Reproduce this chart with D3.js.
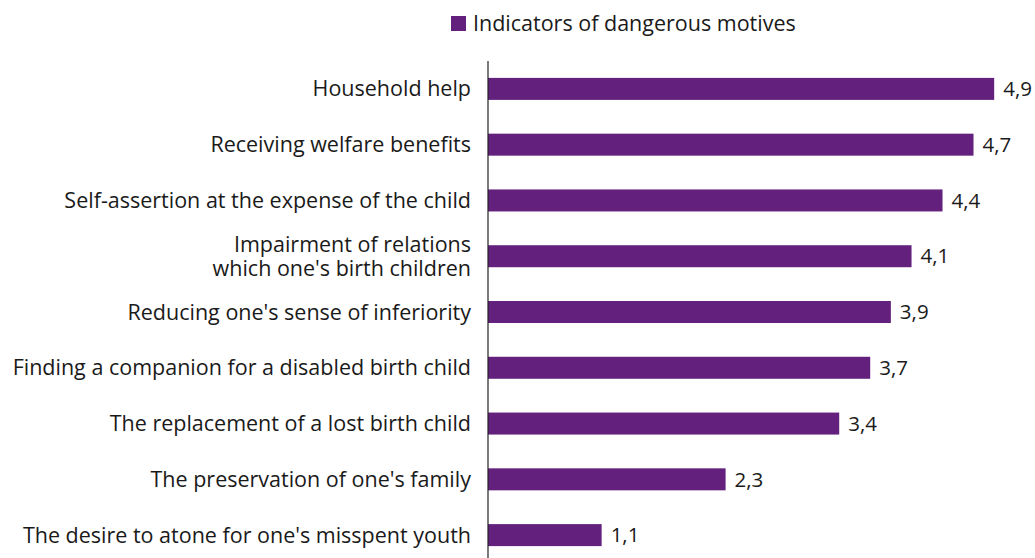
<!DOCTYPE html>
<html>
<head>
<meta charset="utf-8">
<script src="https://cdn.jsdelivr.net/npm/d3@7"></script>
<style>
  html, body { margin: 0; padding: 0; background: #fff; }
  text { font-family: "Open Sans", "Noto Sans", sans-serif; fill: #1a1a1a; }
</style>
</head>
<body>
<svg id="chart" width="1035" height="558"></svg>
<script>
// Motives, top to bottom, with their indicator scores
const categories = [
  ["Household help"],
  ["Receiving welfare benefits"],
  ["Self-assertion at the expense of the child"],
  ["Impairment of relations", "which one's birth children"],
  ["Reducing one's sense of inferiority"],
  ["Finding a companion for a disabled birth child"],
  ["The replacement of a lost birth child"],
  ["The preservation of one's family"],
  ["The desire to atone for one's misspent youth"]
];
const values = [4.9, 4.7, 4.4, 4.1, 3.9, 3.7, 3.4, 2.3, 1.1];
const seriesName = "Indicators of dangerous motives";

const barColor = "#63207d";
const fontSize = 21.5;
const svg = d3.select("#chart");

const x0 = 488;
const x = d3.scaleLinear().domain([0, 5]).range([x0, x0 + 516.5]);
const y = d3.scaleBand()
  .domain(d3.range(values.length))
  .range([61, 563])
  .paddingInner(0.6)
  .paddingOuter(0.3);

// Bars
svg.append("g").selectAll("rect")
  .data(values)
  .join("rect")
  .attr("x", x(0))
  .attr("y", (d, i) => y(i) + y.bandwidth() / 2 - 11)
  .attr("width", d => x(d) - x(0))
  .attr("height", 22)
  .attr("fill", barColor);

// Value labels
svg.append("g").selectAll("text")
  .data(values)
  .join("text")
  .attr("x", d => x(d) + 9)
  .attr("y", (d, i) => y(i) + y.bandwidth() / 2)
  .attr("dy", "0.35em")
  .attr("font-size", 20.5)
  .text(d => d3.format(".1f")(d).replace(".", ","));

// Category labels (multi-line labels are centred on their bar)
const lineGap = 24;
const cat = svg.append("g").selectAll("text")
  .data(categories)
  .join("text")
  .attr("text-anchor", "end")
  .attr("font-size", fontSize);
cat.each(function(lines, i) {
  const t = d3.select(this);
  const n = lines.length;
  const cy = y(i) + y.bandwidth() / 2;
  lines.forEach((l, k) => {
    t.append("tspan")
      .attr("x", 471)
      .attr("y", cy + (k - (n - 1) / 2) * lineGap)
      .attr("dy", "0.35em")
      .text(l);
  });
});

// Category axis line
svg.append("line")
  .attr("x1", x0).attr("x2", x0)
  .attr("y1", 61).attr("y2", 558)
  .attr("stroke", "#222").attr("stroke-width", 1.2);

// Legend
const lg = svg.append("g");
lg.append("rect").attr("x", 451).attr("y", 16).attr("width", 15).attr("height", 15).attr("fill", barColor);
lg.append("text").attr("x", 473).attr("y", 23.5).attr("dy", "0.35em").attr("font-size", fontSize).text(seriesName);
</script>
</body>
</html>
